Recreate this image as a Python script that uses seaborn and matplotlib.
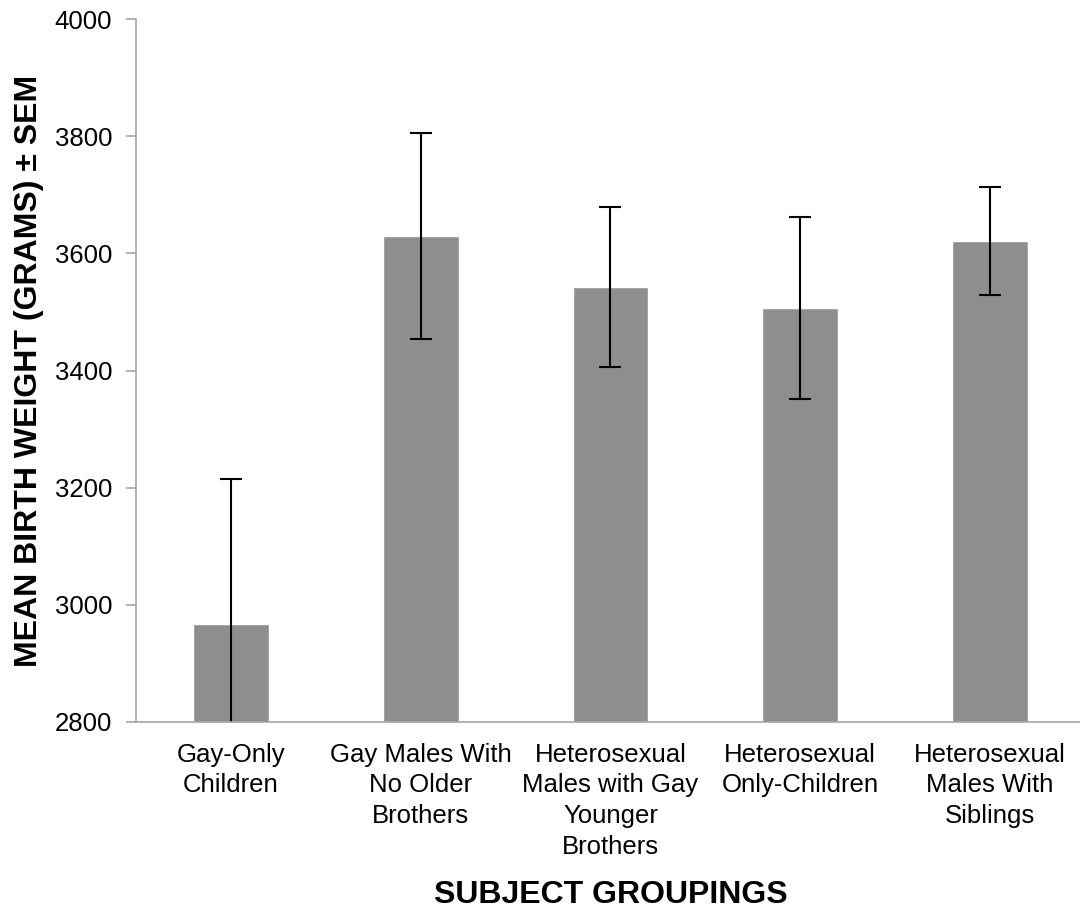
import numpy as np
import pandas as pd
import matplotlib
matplotlib.use("Agg")
import matplotlib.pyplot as plt
import seaborn as sns

# values
groups = ["Gay-Only\nChildren",
          "Gay Males With\nNo Older\nBrothers",
          "Heterosexual\nMales with Gay\nYounger\nBrothers",
          "Heterosexual\nOnly-Children",
          "Heterosexual\nMales With\nSiblings"]
mean_weight = [2967, 3630, 3543, 3507, 3621]
sem = [248, 176, 137, 156, 92]
y_ticks = [2800, 3000, 3200, 3400, 3600, 3800, 4000]

df = pd.DataFrame({"group": groups, "weight": mean_weight})

sns.set_style("white")
plt.rcParams["font.family"] = ["Liberation Sans", "DejaVu Sans"]
plt.rcParams["text.color"] = "black"
plt.rcParams["axes.labelcolor"] = "black"
plt.rcParams["xtick.labelcolor"] = "black"
plt.rcParams["ytick.labelcolor"] = "black"

fig = plt.figure(figsize=(10.8, 9.11), dpi=100)
ax = fig.add_axes([0.1259, 0.2078, 0.8787, 0.771])

sns.barplot(data=df, x="group", y="weight", color="#8e8e8e", saturation=1,
            width=0.4, errorbar=None, ax=ax)
ax.errorbar(x=np.arange(len(groups)), y=mean_weight, yerr=sem, fmt="none",
            ecolor="black", elinewidth=1.5, capsize=8, capthick=1.5)

ax.set_ylim(2800, 4000)
ax.set_xlim(-0.5, 4.5)
ax.set_yticks(y_ticks)
ax.set_yticklabels([str(t) for t in y_ticks], fontsize=18.5)
ax.set_xticks(range(len(groups)))
ax.set_xticklabels(groups, fontsize=18.5, linespacing=1.36)
ax.set_xticks(np.arange(-0.5, 5, 1), minor=True)

ax.tick_params(axis="x", which="major", length=0, pad=15)
ax.tick_params(axis="x", which="minor", length=7, width=1.2, color="#a6a6a6")
ax.tick_params(axis="y", length=7, width=1.2, color="#a6a6a6", pad=10, left=True)

for s in ["top", "right"]:
    ax.spines[s].set_visible(False)
for s in ["left", "bottom"]:
    ax.spines[s].set_color("#a6a6a6")
    ax.spines[s].set_linewidth(1.2)

ax.set_xlabel("SUBJECT GROUPINGS", fontsize=23, fontweight="bold", labelpad=15)
ax.set_ylabel("MEAN BIRTH WEIGHT (GRAMS) ± SEM", fontsize=23, fontweight="bold",
              labelpad=8)

fig.savefig("out.png", dpi=100)
